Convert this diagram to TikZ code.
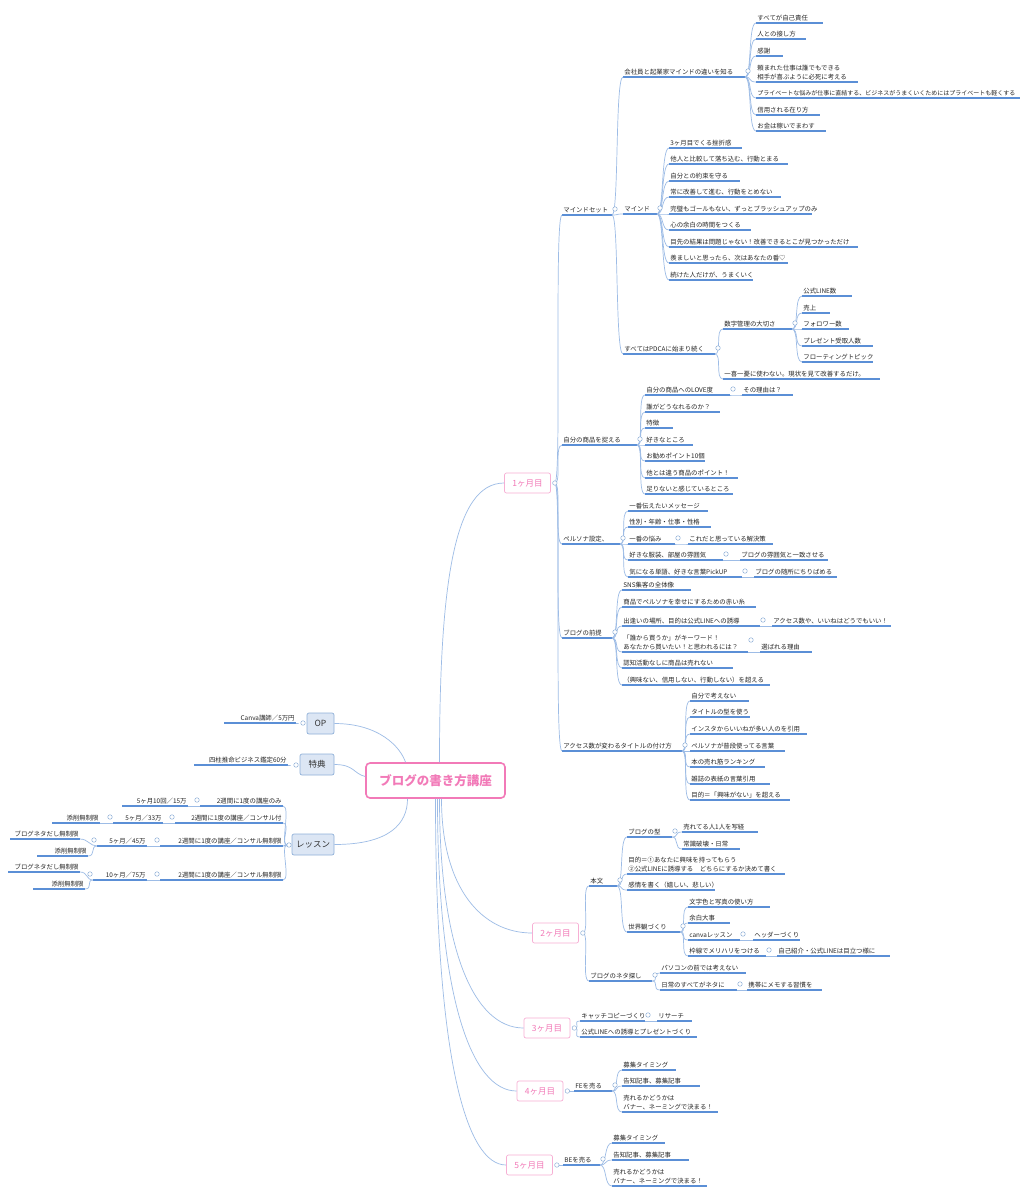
\documentclass[tikz,border=0pt]{standalone}
\usepackage{fontspec}
\setmainfont{Noto Sans CJK JP}
\definecolor{ul}{HTML}{5B8FD6}
\definecolor{cl}{HTML}{9DBCE6}
\definecolor{pk}{HTML}{F27AB8}
\definecolor{bx}{HTML}{DCE6F4}
\definecolor{bxd}{HTML}{8FB0D8}
\tikzset{
 uline/.style={ul,line width=1.3pt},
 conn/.style={cl,line width=0.7pt},
 lt/.style={inner xsep=1.2pt,inner ysep=1.6pt,font=\fontsize{6.4}{9.5}\selectfont,align=left,text=black!85},
 dotn/.style={circle,draw=bxd,fill=white,minimum size=4.5pt,inner sep=0,line width=0.5pt},
 mbox/.style={draw=pk!60,rounded corners=2pt,minimum width=46pt,minimum height=20pt,text=pk,font=\fontsize{8.5}{10}\selectfont,line width=0.7pt,fill=white},
 lbox/.style={draw=bxd,fill=bx,rounded corners=2pt,minimum height=21pt,font=\fontsize{8.5}{10}\selectfont,line width=0.7pt,text=black!80}
}
\newcommand\lf[5]{\coordinate (#1-l) at (#2,#3);\coordinate (#1-r) at (#4,#3);
 \draw[uline] (#1-l) -- (#1-r);\node[lt,anchor=south west] (#1) at (#2,#3) {#5};}
\newcommand\lfL[5]{\coordinate (#1-l) at (#2,#3);\coordinate (#1-r) at (#4,#3);
 \draw[uline] (#1-l) -- (#1-r);\node[lt,anchor=south east] (#1) at (#4,#3) {#5};}
\newcommand\dR[1]{\path (#1-r) ++(3,-6) node[dotn] (#1-c) {};}
\newcommand\dL[1]{\path (#1-l) ++(-3,-6) node[dotn] (#1-c) {};}
\newcommand\cR[2]{\draw[conn] (#1-r) .. controls +(7,0) and +(-8,0) .. (#2-l);}
\newcommand\cL[2]{\draw[conn] (#1-l) .. controls +(-7,0) and +(8,0) .. (#2-r);}
\begin{document}
\begin{tikzpicture}[x=1pt,y=-1pt]
\useasboundingbox[fill=white] (0,0) rectangle (1029,1195);
\node[draw=pk,line width=1.6pt,rounded corners=4pt,minimum width=139pt,minimum height=35pt,text=pk,font=\fontsize{12.5}{14}\selectfont\bfseries,fill=white] (root) at (435.5,780.5) {ブログの書き方講座};
\node[mbox] (m1) at (527.5,483) {1ヶ月目};
\node[mbox] (m2) at (555.5,933) {2ヶ月目};
\node[mbox] (m3) at (547,1028) {3ヶ月目};
\node[mbox] (m4) at (540,1091) {4ヶ月目};
\node[mbox] (m5) at (529.5,1165) {5ヶ月目};
\foreach \m in {m1,m2,m3,m4,m5}{\coordinate (\m-r) at ([xshift=4pt]\m.east);}
\draw[conn] ([xshift=4pt]root.north) .. controls +(0,-180) and +(-50,0) .. (m1.west);
\draw[conn] ([xshift=6pt]root.south) .. controls +(0,90) and +(-50,0) .. (m2.west);
\draw[conn] ([xshift=4pt]root.south) .. controls +(0,150) and +(-50,0) .. (m3.west);
\draw[conn] ([xshift=2pt]root.south) .. controls +(0,200) and +(-45,0) .. (m4.west);
\draw[conn] ([xshift=0pt]root.south) .. controls +(0,260) and +(-40,0) .. (m5.west);
\node[lbox,minimum width=27pt] (op) at (320.5,723.5) {OP};
\node[lbox,minimum width=34pt] (tk) at (317,764.5) {特典};
\node[lbox,minimum width=42pt] (les) at (313,844.5) {レッスン};
\draw[conn] (op.east) .. controls +(45,0) and +(-5,-15) .. ([xshift=-30pt]root.north);
\draw[conn] (tk.east) .. controls +(20,0) and +(-12,-3) .. ([yshift=4pt]root.west);
\draw[conn] (les.east) .. controls +(55,0) and +(0,25) .. ([xshift=-28pt]root.south);
\coordinate (op-l) at (298,723);\coordinate (tk-l) at (290,765);\coordinate (les-l) at (287,845);
\node[dotn] at (303,723) {};\node[dotn] at (296,765) {};\node[dotn] at (289,845) {};
\lfL{opa}{224}{723}{296}{Canva講師／5万円}\cL{op}{opa}
\lfL{tka}{194}{765}{288}{四柱推命ビジネス鑑定60分}\cL{tk}{tka}
\lfL{l1a}{200}{806}{283}{2週間に1度の講座のみ}\lfL{l1b}{122}{806}{188}{5ヶ月10回／15万}
\lfL{l2a}{175}{823}{283}{2週間に1度の講座／コンサル付}\lfL{l2b}{113}{823}{163}{5ヶ月／33万}\lfL{l2c}{52}{823}{100}{添削無制限}
\lfL{l3a}{160}{846}{283}{2週間に1度の講座／コンサル無制限}\lfL{l3b}{97}{846}{147}{5ヶ月／45万}\lfL{l3c}{10}{839}{80}{ブログネタだし無制限}\lfL{l3d}{37}{856}{88}{添削無制限}
\lfL{l4a}{160}{880}{283}{2週間に1度の講座／コンサル無制限}\lfL{l4b}{93}{880}{147}{10ヶ月／75万}\lfL{l4c}{8}{872}{80}{ブログネタだし無制限}\lfL{l4d}{33}{889}{85}{添削無制限}
\cL{les}{l1a}\cL{les}{l2a}\cL{les}{l3a}\cL{les}{l4a}
\cL{l1a}{l1b}\cL{l2a}{l2b}\cL{l2b}{l2c}\cL{l3a}{l3b}\cL{l3b}{l3c}\cL{l3b}{l3d}\cL{l4a}{l4b}\cL{l4b}{l4c}\cL{l4b}{l4d}
\dL{l1a}\dL{l2a}\dL{l2b}\dL{l3a}\dL{l3b}\dL{l4a}\dL{l4b}
\lf{ms}{562}{215}{612}{マインドセット}
\lf{kai}{623}{77}{745}{会社員と起業家マインドの違いを知る}
\lf{k1}{756}{23}{823}{すべてが自己責任}
\lf{k2}{756}{39}{806}{人との接し方}
\lf{k3}{756}{56}{783}{感謝}
\lf{k4}{756}{82}{858}{頼まれた仕事は誰でもできる\\相手が喜ぶように必死に考える}
\lf{k5}{756}{98}{1020}{\fontsize{6}{9}\selectfont プライベートな悩みが仕事に直結する、ビジネスがうまくいくためにはプライベートも軽くする}
\lf{k6}{756}{115}{820}{信用される在り方}
\lf{k7}{756}{131}{826}{お金は稼いでまわす}
\foreach \c in {k1,k2,k3,k4,k5,k6,k7}{\cR{kai}{\c}}
\lf{mi}{623}{214}{657}{マインド}
\lf{n1}{669}{148}{742}{3ヶ月目でくる挫折感}
\lf{n2}{669}{164}{788}{他人と比較して落ち込む、行動とまる}
\lf{n3}{669}{181}{740}{自分との約束を守る}
\lf{n4}{669}{197}{781}{常に改善して進む、行動をとめない}
\lf{n5}{669}{214}{812}{完璧もゴールもない、ずっとブラッシュアップのみ}
\lf{n6}{669}{230}{751}{心の余白の時間をつくる}
\lf{n7}{669}{247}{858}{目先の結果は問題じゃない！改善できるとこが見つかっただけ}
\lf{n8}{669}{263}{788}{羨ましいと思ったら、次はあなたの番♡}
\lf{n9}{669}{280}{753}{続けた人だけが、うまくいく}
\foreach \c in {n1,n2,n3,n4,n5,n6,n7,n8,n9}{\cR{mi}{\c}}
\lf{pd}{623}{354}{715}{すべてはPDCAに始まり続く}
\lf{su}{723}{329}{792}{数字管理の大切さ}
\lf{s1}{802}{296}{852}{公式LINE数}
\lf{s2}{802}{313}{830}{売上}
\lf{s3}{802}{329}{849}{フォロワー数}
\lf{s4}{802}{346}{873}{プレゼント受取人数}
\lf{s5}{802}{362}{873}{フローティングトピック}
\foreach \c in {s1,s2,s3,s4,s5}{\cR{su}{\c}}
\lf{ik}{723}{379}{880}{一喜一憂に使わない。現状を見て改善するだけ。}
\cR{pd}{su}\cR{pd}{ik}
\cR{ms}{kai}\cR{ms}{mi}\cR{ms}{pd}
\lf{jb}{562}{445}{637}{自分の商品を捉える}
\lf{j1}{645}{395}{730}{自分の商品へのLOVE度}
\lf{j1a}{742}{395}{793}{その理由は？}\cR{j1}{j1a}
\lf{j2}{645}{412}{720}{誰がどうなれるのか？}
\lf{j3}{645}{428}{673}{特徴}
\lf{j4}{645}{445}{693}{好きなところ}
\lf{j5}{645}{461}{705}{お勧めポイント10個}
\lf{j6}{645}{478}{738}{他とは違う商品のポイント！}
\lf{j7}{645}{494}{733}{足りないと感じているところ}
\foreach \c in {j1,j2,j3,j4,j5,j6,j7}{\cR{jb}{\c}}
\lf{pe}{562}{544}{620}{ペルソナ設定、}
\lf{p1}{628}{511}{708}{一番伝えたいメッセージ}
\lf{p2}{628}{527}{711}{性別・年齢・仕事・性格}
\lf{p3}{628}{544}{675}{一番の悩み}
\lf{p3a}{688}{544}{773}{これだと思っている解決策}\cR{p3}{p3a}
\lf{p4}{628}{560}{723}{好きな服装、部屋の雰囲気}
\lf{p4a}{740}{560}{828}{ブログの雰囲気と一致させる}\cR{p4}{p4a}
\lf{p5}{628}{577}{742}{気になる単語、好きな言葉PickUP}
\lf{p5a}{754}{577}{837}{ブログの随所にちりばめる}\cR{p5}{p5a}
\foreach \c in {p1,p2,p3,p4,p5}{\cR{pe}{\c}}
\lf{bz}{562}{638}{612}{ブログの前提}
\lf{b1}{622}{590}{691}{SNS集客の全体像}
\lf{b2}{622}{607}{756}{商品でペルソナを幸せにするための赤い糸}
\lf{b3}{622}{626}{760}{出逢いの場所、目的は公式LINEへの誘導}
\lf{b3a}{772}{626}{891}{アクセス数や、いいねはどうでもいい！}\cR{b3}{b3a}
\lf{b4}{622}{652}{748}{「誰から買うか」がキーワード！\\あなたから買いたい！と思われるには？}
\lf{b4a}{760}{652}{812}{選ばれる理由}\cR{b4}{b4a}
\lf{b5}{622}{668}{733}{認知活動なしに商品は売れない}
\lf{b6}{622}{685}{770}{（興味ない、信用しない、行動しない）を超える}
\foreach \c in {b1,b2,b3,b4,b5,b6}{\cR{bz}{\c}}
\lf{ac}{562}{751}{682}{アクセス数が変わるタイトルの付け方}
\lf{a1}{690}{701}{749}{自分で考えない}
\lf{a2}{690}{717}{750}{タイトルの型を使う}
\lf{a3}{690}{734}{807}{インスタからいいねが多い人のを引用}
\lf{a4}{690}{751}{785}{ペルソナが普段使ってる言葉}
\lf{a5}{690}{767}{765}{本の売れ筋ランキング}
\lf{a6}{690}{784}{770}{雑誌の表紙の言葉引用}
\lf{a7}{690}{800}{790}{目的＝「興味がない」を超える}
\foreach \c in {a1,a2,a3,a4,a5,a6,a7}{\cR{ac}{\c}}
\foreach \c in {ms,jb,pe,bz,ac}{\cR{m1}{\c}}
\foreach \d in {ms,kai,mi,pd,su,jb,j1,pe,p3,p4,p5,bz,b3,ac}{\dR{\d}}
\path (b4-r) ++(3,-12) node[dotn] {};
\lf{ho}{589}{886}{617}{本文}
\lf{kt}{627}{837}{672}{ブログの型}
\lf{kt1}{682}{832}{758}{売れてる人1人を写経}
\lf{kt2}{682}{849}{740}{常識破壊・日常}
\cR{kt}{kt1}\cR{kt}{kt2}
\lf{mo}{627}{874}{785}{目的＝①あなたに興味を持ってもらう\\②公式LINEに誘導する　どちらにするか決めて書く}
\lf{ka}{627}{890}{715}{感情を書く（嬉しい、悲しい）}
\lf{se}{627}{932}{680}{世界観づくり}
\lf{se1}{688}{907}{770}{文字色と写真の使い方}
\lf{se2}{688}{923}{730}{余白大事}
\lf{se3}{688}{940}{740}{canvaレッスン}
\lf{se3a}{753}{940}{800}{ヘッダーづくり}\cR{se3}{se3a}
\lf{se4}{688}{956}{766}{枠線でメリハリをつける}
\lf{se4a}{777}{956}{890}{自己紹介・公式LINEは目立つ様に}\cR{se4}{se4a}
\foreach \c in {se1,se2,se3,se4}{\cR{se}{\c}}
\foreach \c in {kt,mo,ka,se}{\cR{ho}{\c}}
\lf{ne}{589}{981}{652}{ブログのネタ探し}
\lf{ne1}{660}{973}{746}{パソコンの前では考えない}
\lf{ne2}{660}{990}{737}{日常のすべてがネタに}
\lf{ne2a}{747}{990}{822}{携帯にメモする習慣を}\cR{ne2}{ne2a}
\cR{ne}{ne1}\cR{ne}{ne2}
\cR{m2}{ho}\cR{m2}{ne}
\foreach \d in {ho,kt,se,se3,se4,ne,ne2}{\dR{\d}}
\lf{ca}{580}{1021}{645}{キャッチコピーづくり}
\lf{caa}{657}{1021}{692}{リサーチ}\cR{ca}{caa}
\lf{kl}{580}{1037}{697}{公式LINEへの誘導とプレゼントづくり}
\cR{m3}{ca}\cR{m3}{kl}\dR{ca}
\lf{fe}{574}{1091}{612}{FEを売る}
\lf{f1}{622}{1070}{676}{募集タイミング}
\lf{f2}{622}{1086}{700}{告知記事、募集記事}
\lf{f3}{622}{1112}{718}{売れるかどうかは\\バナー、ネーミングで決まる！}
\foreach \c in {f1,f2,f3}{\cR{fe}{\c}}
\cR{m4}{fe}\dR{fe}
\lf{be}{563}{1165}{600}{BEを売る}
\lf{e1}{612}{1143}{665}{募集タイミング}
\lf{e2}{612}{1160}{689}{告知記事、募集記事}
\lf{e3}{612}{1186}{707}{売れるかどうかは\\バナー、ネーミングで決まる！}
\foreach \c in {e1,e2,e3}{\cR{be}{\c}}
\cR{m5}{be}\dR{be}
\foreach \m in {m1,m2,m3,m4,m5}{\node[dotn] at (\m-r) {};}
\end{tikzpicture}
\end{document}
